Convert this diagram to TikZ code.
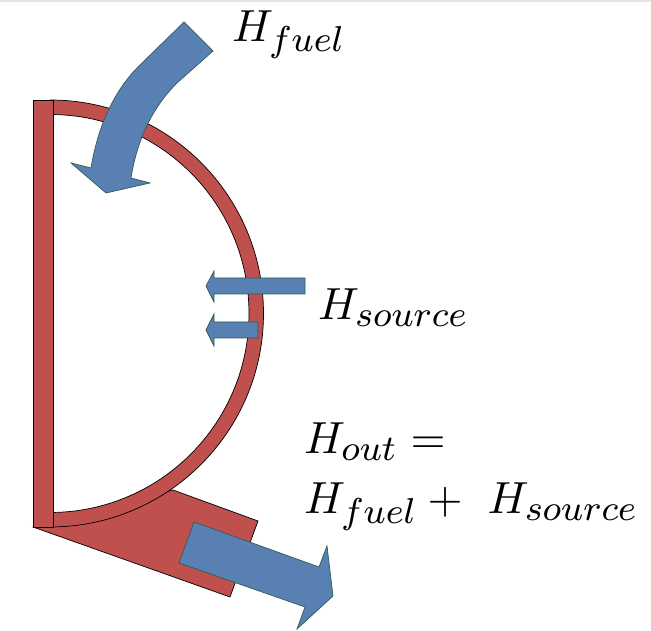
\documentclass[tikz,border=0pt]{standalone}
\DeclareMathSizes{10}{10}{8.4}{6}
\definecolor{wallred}{HTML}{C0504D}
\definecolor{flowblue}{HTML}{5880B2}
\definecolor{flowedge}{HTML}{2E5E55}
\tikzset{
  wall/.style={fill=wallred,draw=black,line width=0.5pt,line join=miter},
  flow/.style={fill=flowblue,draw=flowedge,line width=0.5pt,line join=miter},
  heatlabel/.style={anchor=base west,inner sep=0pt,outer sep=0pt,scale=3.2}
}
\begin{document}
\begin{tikzpicture}
\useasboundingbox (0,0) rectangle (16.275,15.775);
\fill[black!10] (0,15.725) rectangle (16.275,15.775);
\draw[wall] (0.825,2.6) -- (5.75,0.85) -- (6.45,2.75) -- (4.325,3.525) -- cycle;
\draw[wall] (1.25,13.275) arc[start angle=90,end angle=-90,radius=5.3375] -- (1.25,2.9625) arc[start angle=-90,end angle=90,radius=4.975] -- cycle;
\draw[wall] (0.825,2.6) rectangle (1.325,13.275);
\draw[flow] (4.6,15.225) -- (5.325,14.5) -- (4.425,13.7) .. controls (3.875,13.15) and (3.45,12.4) .. (3.275,11.325) -- (3.75,11.2) -- (2.65,10.95) -- (1.775,11.7) -- (2.275,11.575) .. controls (2.45,12.65) and (2.875,13.525) .. (3.45,14.1) -- cycle;
\draw[flow] (7.625,8.825) -- (7.625,8.425) -- (5.35,8.425) -- (5.35,8.225) -- (5.15,8.625) -- (5.35,9.0) -- (5.35,8.825) -- cycle;
\draw[flow] (6.45,7.725) -- (6.45,7.325) -- (5.35,7.325) -- (5.35,7.125) -- (5.15,7.525) -- (5.35,7.925) -- (5.35,7.725) -- cycle;
\draw[flow] (4.85,2.725) -- (4.475,1.7) -- (7.625,0.6) -- (7.425,0.05) -- (8.325,0.875) -- (8.175,2.125) -- (7.975,1.6) -- cycle;
\node[heatlabel] (hfuel) at (5.8,14.725) {$H_{fuel}$};
\node[heatlabel] (hsource) at (7.95,7.775) {$H_{source}$};
\node[heatlabel] (hout) at (7.6,4.425) {$H_{out}=$};
\node[heatlabel] (hsum) at (7.6,2.925) {$H_{fuel}+\ H_{source}$};
\end{tikzpicture}
\end{document}
